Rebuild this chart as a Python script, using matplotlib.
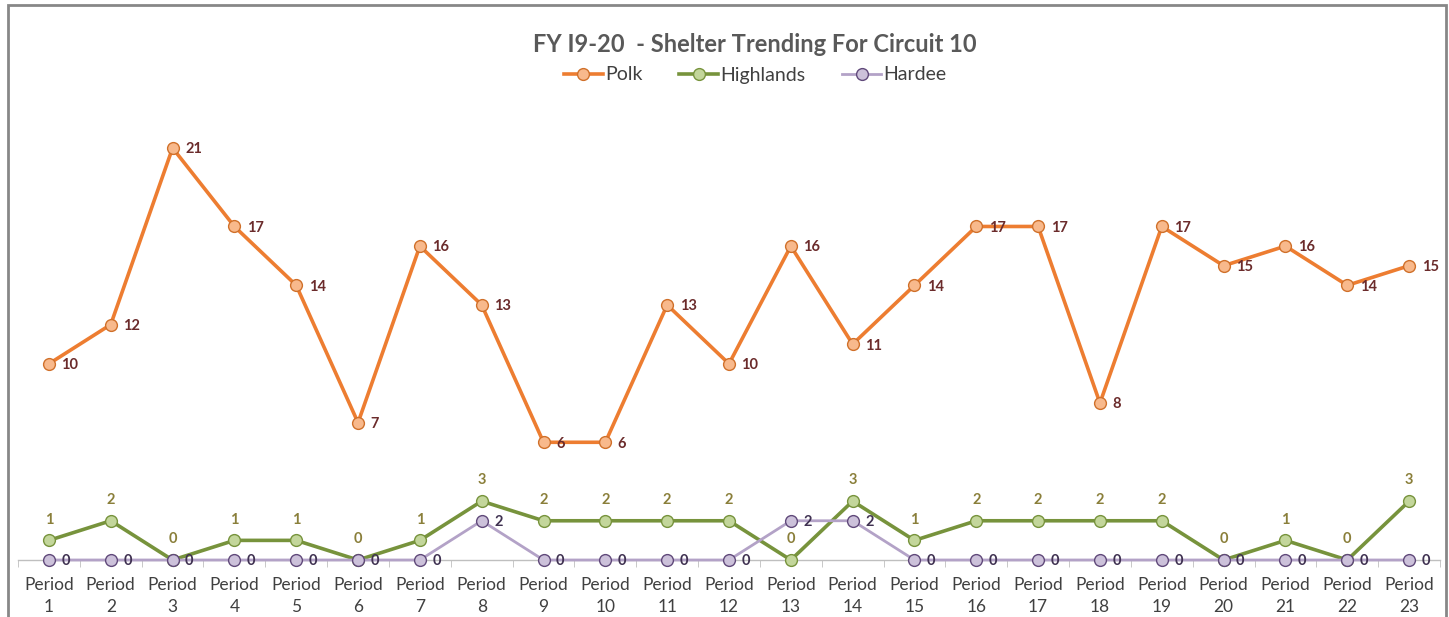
import matplotlib.pyplot as plt
from matplotlib.patches import Rectangle
from matplotlib.ticker import FixedLocator

periods = ['Period\n%d' % i for i in range(1, 24)]
polk = [10, 12, 21, 17, 14, 7, 16, 13, 6, 6, 13, 10, 16, 11, 14, 17, 17, 8, 17, 15, 16, 14, 15]
highlands = [1, 2, 0, 1, 1, 0, 1, 3, 2, 2, 2, 2, 0, 3, 1, 2, 2, 2, 2, 0, 1, 0, 3]
hardee = [0, 0, 0, 0, 0, 0, 0, 2, 0, 0, 0, 0, 2, 2, 0, 0, 0, 0, 0, 0, 0, 0, 0]


def main():
	plt.rcParams['font.family'] = ['Lato', 'DejaVu Sans']

	fig = plt.figure(figsize=(14.49, 6.17), dpi=100)
	W, H = 1449, 617
	ax = fig.add_axes([18 / W, (H - 560) / H, (1440 - 18) / W, 412 / H])

	x = list(range(len(periods)))

	l1, = ax.plot(x, polk, color='#ED7D31', lw=2.6, marker='o', ms=8.5,
				  mfc='#F8B98C', mec='#D0702A', mew=1, clip_on=False, zorder=3, label='Polk')
	l2, = ax.plot(x, highlands, color='#77933C', lw=2.6, marker='o', ms=8.5,
				  mfc='#C3D69B', mec='#77933C', mew=1, clip_on=False, zorder=3, label='Highlands')
	l3, = ax.plot(x, hardee, color='#B3A2C7', lw=2.0, marker='o', ms=8.5,
				  mfc='#CCC1DA', mec='#60497A', mew=1, clip_on=False, zorder=4, label='Hardee')

	# data labels
	for i, v in enumerate(polk):
		ax.annotate(str(v), (i, v), xytext=(9, -1), textcoords='offset points',
					ha='left', va='center', fontsize=10.5, fontweight='bold', color='#6B2B2B', zorder=6)
	for i, v in enumerate(highlands):
		ax.annotate(str(v), (i, v), xytext=(0, 15), textcoords='offset points',
					ha='center', va='center', fontsize=10.5, fontweight='bold', color='#8A7F3A', zorder=6)
	for i, v in enumerate(hardee):
		ax.annotate(str(v), (i, v), xytext=(9, -1), textcoords='offset points',
					ha='left', va='center', fontsize=10.5, fontweight='bold', color='#3F3151', zorder=6)

	ax.set_xlim(-0.5, len(periods) - 0.5)
	ax.set_ylim(0, 21)
	ax.set_yticks([])
	for s in ['top', 'right', 'left']:
		ax.spines[s].set_visible(False)
	ax.spines['bottom'].set_color('#BFBFBF')
	ax.spines['bottom'].set_linewidth(1)

	ax.set_xticks(x)
	ax.set_xticklabels(periods, fontsize=12.5, color='#404040', linespacing=1.45)
	ax.tick_params(axis='x', which='major', length=0, pad=12.5)
	ax.xaxis.set_minor_locator(FixedLocator([i - 0.5 for i in range(len(periods) + 1)]))
	ax.tick_params(axis='x', which='minor', length=5, color='#BFBFBF', direction='out')

	fig.text(755 / W, (H - 45) / H, 'FY I9-20  - Shelter Trending For Circuit 10',
			 ha='center', va='center', fontsize=17, fontweight='bold', color='#595959')
	fig.legend(handles=[l1, l2, l3], loc='center', bbox_to_anchor=(755 / W, (H - 75) / H),
			   ncol=3, frameon=False, fontsize=14, handlelength=2.0, handletextpad=0.1,
			   columnspacing=1.9, labelcolor='#404040')

	fig.add_artist(Rectangle((8 / W, -0.05), 1438 / W, (H - 5) / H + 0.05,
							 transform=fig.transFigure, fill=False, edgecolor='#878787', lw=2))

	plt.savefig('out.png', dpi=100)


if __name__ == '__main__':
	main()
